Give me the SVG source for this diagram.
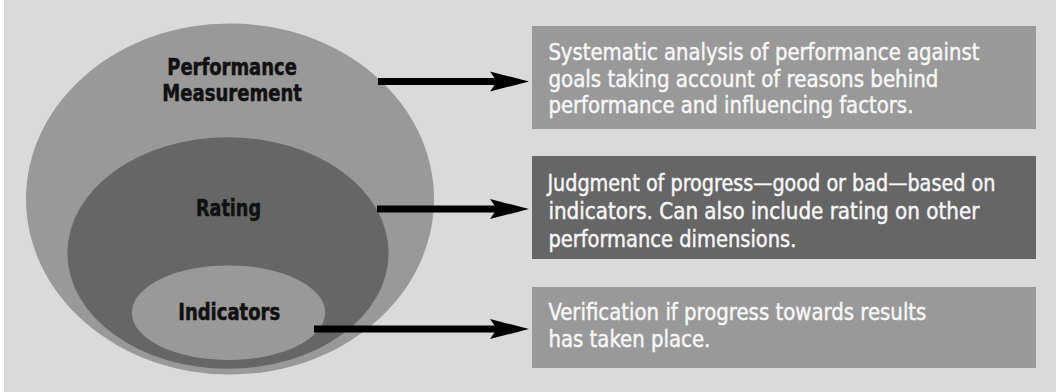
<svg xmlns="http://www.w3.org/2000/svg" width="1056" height="392" viewBox="0 0 1056 392">
  <style>
    .lbl { font-family: "Liberation Sans Narrow", "DejaVu Sans Condensed", "Liberation Sans", sans-serif; font-weight: bold; font-size: 23px; fill: #111111; stroke: #111111; stroke-width: 0.5; }
    .desc { font-family: "Liberation Sans Narrow", "DejaVu Sans Condensed", "Liberation Sans", sans-serif; font-size: 23.5px; fill: #f7f7f7; stroke: #f7f7f7; stroke-width: 0.45; }
    .light { fill: #999999; }
    .dark { fill: #666666; }
    .arrow-line { stroke: #000000; stroke-width: 7; fill: none; }
    .arrow-head { fill: #000000; }
  </style>
  <rect x="0" y="0" width="1056" height="392" fill="#ffffff"/>
  <rect x="4" y="0" width="1052" height="392" fill="#dadada"/>

  <g id="node-performance-measurement">
    <ellipse class="light" cx="230" cy="199" rx="204" ry="175.5"/>
    <text class="lbl" x="167.3" y="75" textLength="129.5" lengthAdjust="spacingAndGlyphs">Performance</text>
    <text class="lbl" x="162.3" y="100.7" textLength="139.6" lengthAdjust="spacingAndGlyphs">Measurement</text>
  </g>
  <g id="node-rating">
    <ellipse class="dark" cx="228" cy="253" rx="160.6" ry="115.7"/>
    <text class="lbl" x="196" y="216" textLength="65" lengthAdjust="spacingAndGlyphs">Rating</text>
  </g>
  <g id="node-indicators">
    <ellipse class="light" cx="228.5" cy="312.7" rx="96.7" ry="47.3"/>
    <text class="lbl" x="178.2" y="319.5" textLength="102" lengthAdjust="spacingAndGlyphs">Indicators</text>
  </g>

  <g id="node-box-performance">
    <rect class="light" x="532" y="26" width="504" height="103"/>
    <text class="desc" x="548.4" y="60" textLength="431" lengthAdjust="spacingAndGlyphs">Systematic analysis of performance against</text>
    <text class="desc" x="548.4" y="86.5" textLength="390" lengthAdjust="spacingAndGlyphs">goals taking account of reasons behind</text>
    <text class="desc" x="548.4" y="113" textLength="365" lengthAdjust="spacingAndGlyphs">performance and influencing factors.</text>
  </g>
  <g id="node-box-rating">
    <rect class="dark" x="532" y="156" width="504" height="103"/>
    <text class="desc" x="547.4" y="191" textLength="448" lengthAdjust="spacingAndGlyphs">Judgment of progress—good or bad—based on</text>
    <text class="desc" x="548.4" y="219" textLength="431" lengthAdjust="spacingAndGlyphs">indicators. Can also include rating on other</text>
    <text class="desc" x="548.4" y="247" textLength="248" lengthAdjust="spacingAndGlyphs">performance dimensions.</text>
  </g>
  <g id="node-box-indicators">
    <rect class="light" x="532" y="287" width="504" height="81"/>
    <text class="desc" x="548.4" y="319.6" textLength="378" lengthAdjust="spacingAndGlyphs">Verification if progress towards results</text>
    <text class="desc" x="548.4" y="347" textLength="162" lengthAdjust="spacingAndGlyphs">has taken place.</text>
  </g>

  <g id="connectors">
    <line class="arrow-line" x1="378" y1="81.5" x2="498" y2="81.5"/>
    <path class="arrow-head" d="M490,71.5 L529,81.5 L490,91.5 L497,81.5 Z"/>
    <line class="arrow-line" x1="377" y1="209" x2="498" y2="209"/>
    <path class="arrow-head" d="M490,199 L529,209 L490,219 L497,209 Z"/>
    <line class="arrow-line" x1="314" y1="329" x2="498" y2="329"/>
    <path class="arrow-head" d="M490,319 L529,329 L490,339 L497,329 Z"/>
  </g>
</svg>
